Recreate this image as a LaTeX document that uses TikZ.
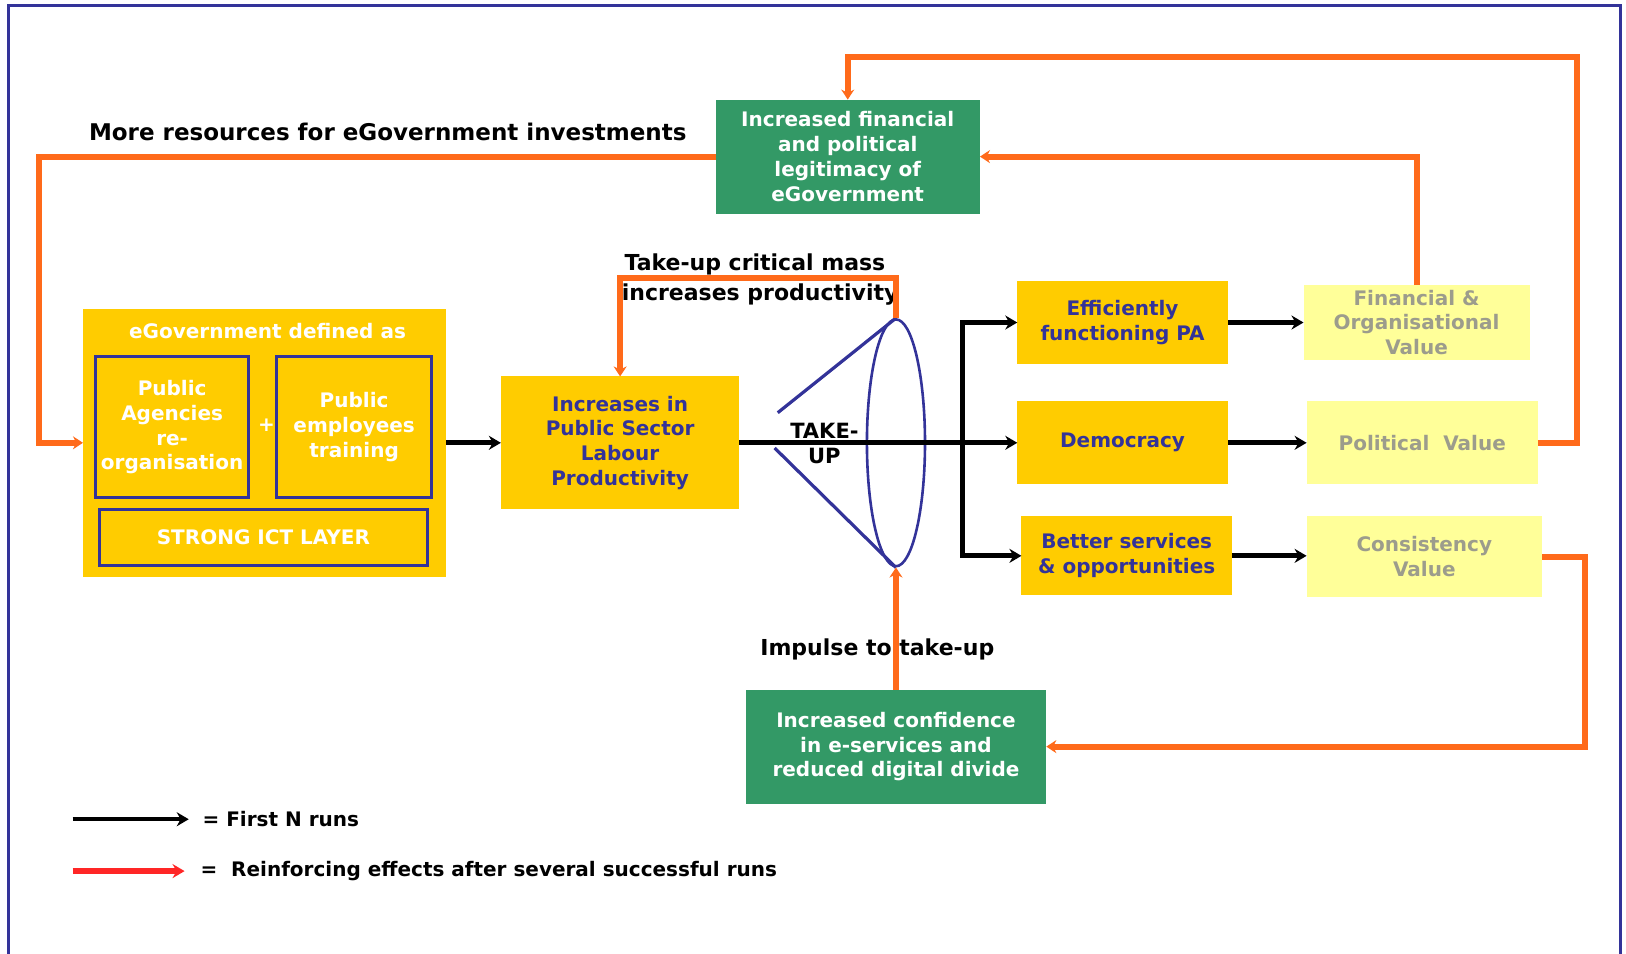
\documentclass[tikz,border=0pt]{standalone}
\usepackage{fontspec}
\setmainfont{DejaVu Sans}
\usetikzlibrary{shapes.geometric,arrows.meta}
\definecolor{gold}{HTML}{FFCC00}
\definecolor{pale}{HTML}{FFFF99}
\definecolor{grn}{HTML}{339966}
\definecolor{navy}{HTML}{333399}
\definecolor{org}{HTML}{FF6A1A}
\definecolor{gtxt}{HTML}{9C9C8C}
\definecolor{redl}{HTML}{FF2626}
\def\un{0.5185pt}
\newcommand\bx[7]{\node[#6, minimum width={(#4-#2)*\un}, minimum height={(#5-#3)*\un}] (#1) at ({(#2+#4)/2},{(#3+#5)/2}) {#7};}
\tikzset{
  box/.style={rectangle, inner sep=0pt, outer sep=0pt, align=center, font=\bfseries\fontsize{10}{12.4}\selectfont},
  gbox/.style={box, fill=gold, text=navy},
  pbox/.style={box, fill=pale, text=gtxt},
  grbox/.style={box, fill=grn, text=white},
  wbox/.style={box, text=white},
  inbox/.style={box, draw=navy, line width=1.6pt, text=white},
  lbl/.style={inner sep=0pt, align=center, font=\bfseries\fontsize{11}{12.4}\selectfont},
  keyl/.style={inner sep=0pt, font=\bfseries\fontsize{10}{12}\selectfont},
  olin/.style={draw=org, line width=3pt},
  oarr/.style={olin, -{Stealth[length=5pt,width=6.5pt]}},
  blin/.style={draw=black, line width=2.6pt},
  barr/.style={blin, -{Stealth[length=6pt,width=7pt]}},
  navyl/.style={draw=navy, line width=1.6pt},
}
\begin{document}
\begin{tikzpicture}[x=\un, y=-\un]
\useasboundingbox (0,0) rectangle (1568,919);
% frame
\draw[navy, line width=1.6pt] (8,980) -- (8,5) -- (1563,5) -- (1563,980);

% boxes
\bx{legit}{690}{96}{945}{206}{grbox}{Increased financial\\and political\\legitimacy of\\eGovernment}
\bx{egov}{80}{298}{430}{556}{gbox}{}
\node[wbox] (egovt) at (258,319) {eGovernment defined as};
\bx{inA}{92}{344}{240}{480}{inbox}{Public\\Agencies\\re-\\organisation}
\node[wbox] (plus) at (257,410) {+};
\bx{inB}{267}{344}{416}{480}{inbox}{Public\\employees\\training}
\bx{ict}{96}{491}{412}{545}{inbox}{STRONG ICT LAYER}
\bx{prod}{483}{363}{713}{491}{gbox}{Increases in\\Public Sector\\Labour\\Productivity}
\bx{eff}{981}{271}{1184}{351}{gbox}{Efficiently\\functioning PA}
\bx{demo}{981}{387}{1184}{467}{gbox}{Democracy}
\bx{bet}{985}{498}{1188}{574}{gbox}{Better services\\\& opportunities}
\bx{finv}{1257}{275}{1475}{347}{pbox}{Financial \&\\Organisational\\Value}
\bx{polv}{1260}{387}{1483}{467}{pbox}{Political~~Value}
\bx{consv}{1260}{498}{1487}{576}{pbox}{Consistency\\Value}
\bx{conf}{719}{665}{1009}{775}{grbox}{Increased confidence\\in e-services and\\reduced digital divide}

% take-up lens
\node[ellipse, draw=navy, line width=1.3pt, minimum width={56*\un}, minimum height={238*\un}, inner sep=0pt] (ell) at (864,427) {};
\coordinate (t1) at (750,398);
\coordinate (t2) at (747,432);
\draw[navyl] (t1) -- (ell.north);
\draw[navyl] (t2) -- (ell.south);

% labels
\node[lbl, font=\bfseries\fontsize{11.5}{12.4}\selectfont] (lmore) at (374,127) {More resources for eGovernment investments};
\node[lbl] (ltake1) at (728,255) {Take-up critical mass};
\node[lbl] (ltake2) at (733,284) {increases productivity};
\node[lbl] (limp) at (846,626) {Impulse to take-up};
\node[lbl, font=\bfseries\fontsize{10.5}{12.4}\selectfont] (ltu) at (795,428) {TAKE-\\UP};

% black flow
\draw[barr] (egov.east) -- (prod.west);
\draw[barr] (prod.east) -- (demo.west);
\coordinate (br) at (928,427);
\draw[barr] (br) |- (eff.west);
\draw[barr] (br) |- (bet.west);
\draw[barr] (eff.east) -- (finv.west);
\draw[barr] (demo.east) -- (polv.west);
\draw[barr] (bet.east) -- (bet.east -| consv.west);

% orange reinforcing loops
\coordinate (cA) at (38,300);
\draw[oarr] (legit.west) -| (cA) |- (egov.west);
\coordinate (cB) at (1521,55);
\draw[oarr] (polv.east) -| (cB) -| (legit.north);
\draw[oarr] (finv.north) |- (legit.east);
\coordinate (cD) at (700,268);
\draw[oarr] (ell.north) |- (cD) -| (prod.north);
\coordinate (cE) at (1528,600);
\draw[oarr] (consv.east) -| (cE) |- (conf.east);
\draw[oarr] (conf.north) -- (ell.south);

% legend
\coordinate (k1a) at (70,790);
\coordinate (k1b) at (182,790);
\draw[barr, line width=2pt] (k1a) -- (k1b);
\node[keyl, anchor=west] (k1t) at (195,790) {= First N runs};
\coordinate (k2a) at (70,840);
\coordinate (k2b) at (178,840);
\draw[draw=redl, line width=2.6pt, -{Stealth[length=6pt,width=7pt]}] (k2a) -- (k2b);
\node[keyl, anchor=west] (k2t) at (193,840) {=~~Reinforcing effects after several successful runs};
\end{tikzpicture}
\end{document}
